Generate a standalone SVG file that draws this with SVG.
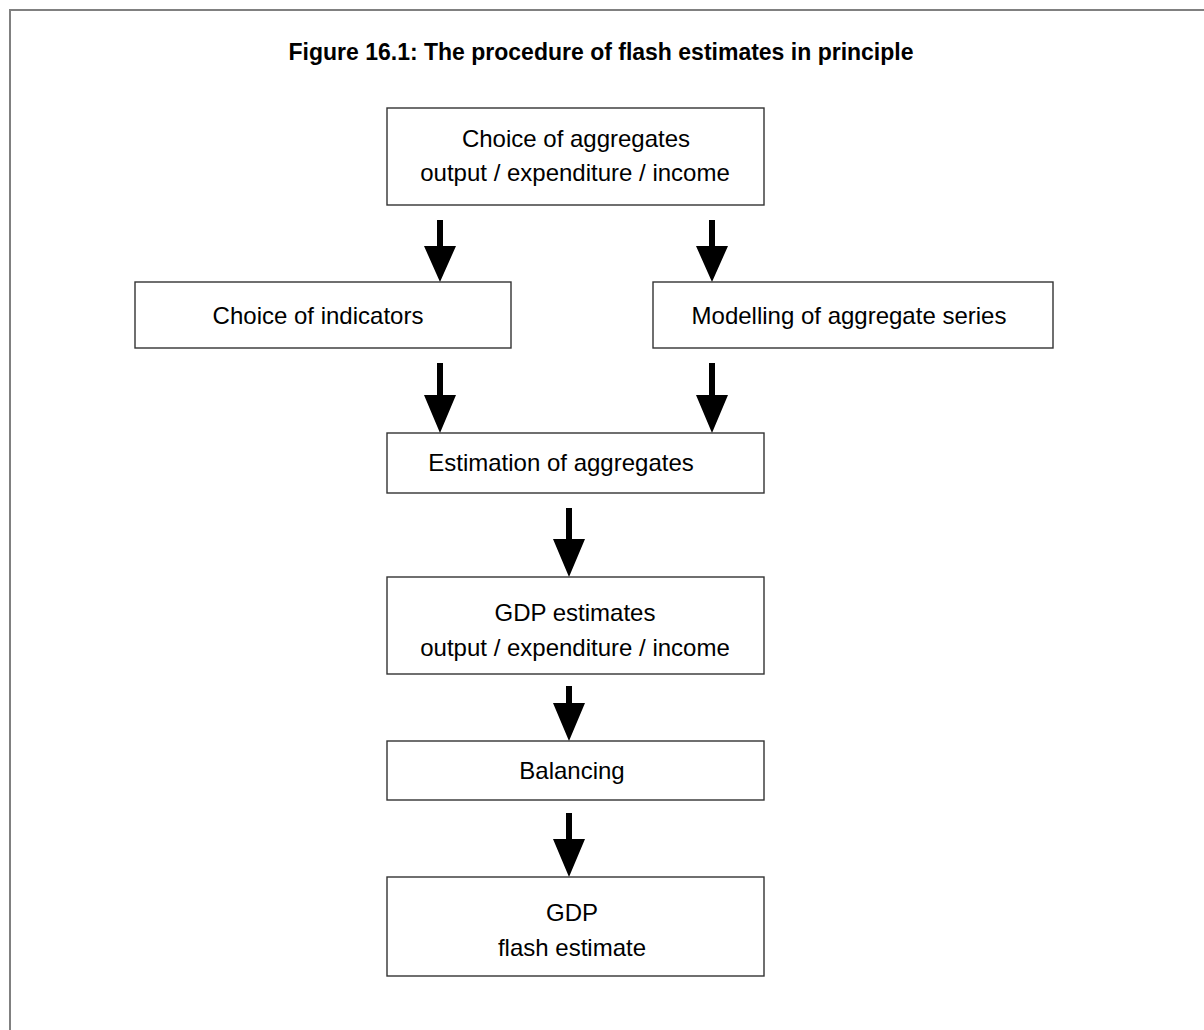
<svg xmlns="http://www.w3.org/2000/svg" width="1204" height="1030" viewBox="0 0 1204 1030">
<style>
  .bg { fill: #ffffff; }
  .frame { fill: none; stroke: #808080; stroke-width: 2; }
  .box { fill: #ffffff; stroke: #333333; stroke-width: 1.4; }
  .t { font-family: "Liberation Sans", Arial, sans-serif; font-size: 24px; fill: #000000; text-anchor: middle; }
  .title { font-family: "Liberation Sans", Arial, sans-serif; font-size: 23px; font-weight: bold; fill: #000000; text-anchor: middle; }
  .arrow { fill: #000000; }
</style>
<rect class="bg" x="0" y="0" width="1204" height="1030"/>
<rect class="frame" x="10" y="10" width="1300" height="1100"/>
<text class="title" x="601" y="60">Figure 16.1: The procedure of flash estimates in principle</text>

<g id="connectors">
  <path class="arrow" d="M437,220 H443 V246 H456 L440,282 L424,246 H437 Z"/>
  <path class="arrow" d="M709,220 H715 V246 H728 L712,282 L696,246 H709 Z"/>
  <path class="arrow" d="M437,363 H443 V395 H456 L440,433 L424,395 H437 Z"/>
  <path class="arrow" d="M709,363 H715 V395 H728 L712,433 L696,395 H709 Z"/>
  <path class="arrow" d="M566,508 H572 V539 H585 L569,577 L553,539 H566 Z"/>
  <path class="arrow" d="M566,686 H572 V703 H585 L569,741 L553,703 H566 Z"/>
  <path class="arrow" d="M566,813 H572 V839 H585 L569,877 L553,839 H566 Z"/>
</g>

<g id="node-choice-aggregates">
  <rect class="box" x="387" y="108" width="377" height="97"/>
  <text class="t" x="576" y="147">Choice of aggregates</text>
  <text class="t" x="575" y="181">output / expenditure / income</text>
</g>
<g id="node-choice-indicators">
  <rect class="box" x="135" y="282" width="376" height="66"/>
  <text class="t" x="318" y="324">Choice of indicators</text>
</g>
<g id="node-modelling">
  <rect class="box" x="653" y="282" width="400" height="66"/>
  <text class="t" x="849" y="324">Modelling of aggregate series</text>
</g>
<g id="node-estimation">
  <rect class="box" x="387" y="433" width="377" height="60"/>
  <text class="t" x="561" y="471">Estimation of aggregates</text>
</g>
<g id="node-gdp-estimates">
  <rect class="box" x="387" y="577" width="377" height="97"/>
  <text class="t" x="575" y="621">GDP estimates</text>
  <text class="t" x="575" y="656">output / expenditure / income</text>
</g>
<g id="node-balancing">
  <rect class="box" x="387" y="741" width="377" height="59"/>
  <text class="t" x="572" y="779">Balancing</text>
</g>
<g id="node-gdp-flash">
  <rect class="box" x="387" y="877" width="377" height="99"/>
  <text class="t" x="572" y="921">GDP</text>
  <text class="t" x="572" y="956">flash estimate</text>
</g>
</svg>
